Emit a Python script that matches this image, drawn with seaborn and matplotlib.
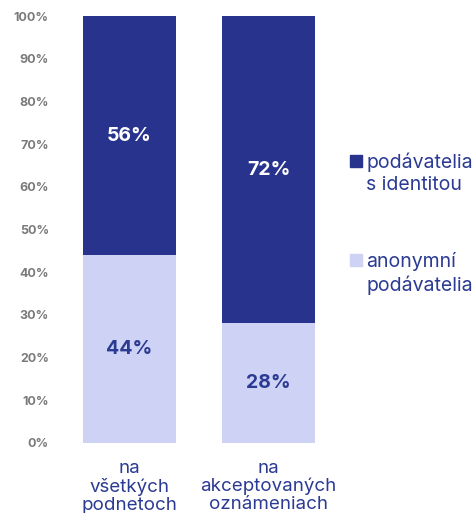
import matplotlib
matplotlib.use("Agg")
import matplotlib.pyplot as plt
import matplotlib.patches as mpatches
import pandas as pd
import seaborn as sns

categories = ["na\nvšetkých\npodnetoch", "na\nakceptovaných\noznámeniach"]
anonymous = [44, 28]
identified = [56, 72]
series_labels = ["podávatelia\ns identitou", "anonymní\npodávatelia"]
y_ticks = [0, 10, 20, 30, 40, 50, 60, 70, 80, 90, 100]

dark = "#28338d"
light = "#ced2f5"
text_navy = "#2b3a93"
gray = "#7a7a7a"

sns.set_theme(style="white")
plt.rcParams["font.family"] = ["Inter", "DejaVu Sans"]

df = pd.DataFrame({"cat": categories, "anon": anonymous, "ident": identified})
df["total"] = df["anon"] + df["ident"]

fig = plt.figure(figsize=(4.76, 5.13), dpi=100)
ax = fig.add_axes([0.126, 0.1365, 0.584, 0.832])

# stacked bars: full height in dark, anonymous share on top of it in light
sns.barplot(data=df, x="cat", y="total", color=dark, width=0.67, ax=ax,
            saturation=1, edgecolor="none")
sns.barplot(data=df, x="cat", y="anon", color=light, width=0.67, ax=ax,
            saturation=1, edgecolor="none")

for i, row in df.iterrows():
    ax.text(i, row["anon"] + row["ident"] / 2, f"{row['ident']}%",
            ha="center", va="center", color="white", fontsize=14,
            fontweight="bold")
    ax.text(i, row["anon"] / 2, f"{row['anon']}%",
            ha="center", va="center", color=text_navy, fontsize=14,
            fontweight="bold")

ax.set_xlim(-0.5, 1.5)
ax.set_ylim(0, 100)
ax.set_yticks(y_ticks)
ax.set_yticklabels([f"{t}%" for t in y_ticks], color=gray, fontsize=9,
                   fontweight="bold")
ax.tick_params(axis="y", length=0, pad=8)
ax.tick_params(axis="x", length=0, pad=12, labelsize=13.5, labelcolor=text_navy)
for lbl in ax.get_xticklabels():
    lbl.set_linespacing(1.07)
ax.set_xlabel("")
ax.set_ylabel("")
sns.despine(ax=ax, left=True, bottom=True)

# legend: square aligned with the first text line
legend_colors = [dark, light]
legend_sq = [0.6745, 0.4815]
legend_txt = [0.7037, 0.5088]
for label, col, ys, yt in zip(series_labels, legend_colors, legend_sq, legend_txt):
    fig.add_artist(mpatches.Rectangle((0.7353, ys), 0.0252, 0.0234,
                                      color=col, transform=fig.transFigure))
    fig.text(0.769, yt, label, color=text_navy, fontsize=14,
             va="top", ha="left", linespacing=1.3)

fig.savefig("out.png", dpi=100)
plt.close(fig)
